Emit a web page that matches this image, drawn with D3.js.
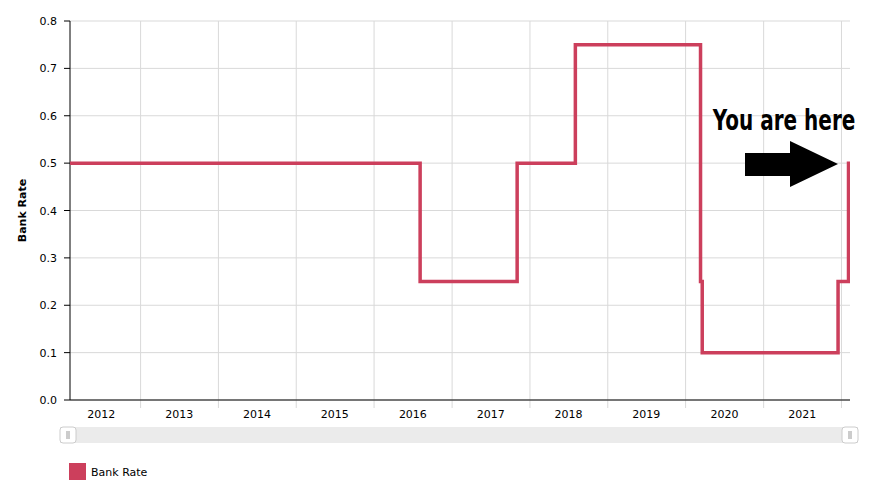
<!DOCTYPE html>
<html><head><meta charset="utf-8">
<script src="https://cdn.jsdelivr.net/npm/d3@7"></script>
<style>body{margin:0;background:#fff}text{font-family:Verdana,"DejaVu Sans",sans-serif}</style>
</head><body><svg id="c" width="870" height="500"></svg>
<script>
const changeDates = ["2012-01-01","2016-08-04","2017-11-02","2018-08-02","2020-03-11","2020-03-19","2021-12-16","2022-02-03","2022-02-10"];
const rates = [0.5,0.25,0.5,0.75,0.25,0.1,0.25,0.5,0.5];
const yTicks = [0,0.1,0.2,0.3,0.4,0.5,0.6,0.7,0.8];
const years = [2012,2013,2014,2015,2016,2017,2018,2019,2020,2021];
const seriesName = "Bank Rate";

const svg = d3.select("#c");
const L=70,R=850,T=21,B=400;
const p = d3.timeParse("%Y-%m-%d");
const data = changeDates.map((d,i)=>({d:p(d),v:rates[i]}));
const x = d3.scaleTime().domain([p("2012-02-05"),p("2022-02-10")]).range([L,R]);
const y = d3.scaleLinear().domain([0,0.8]).range([B,T]);

const g = svg.append("g");
g.selectAll(".hg").data(yTicks).join("line").attr("x1",L).attr("x2",R)
 .attr("y1",d=>y(d)).attr("y2",d=>y(d)).attr("stroke","#d9d9d9");
const ys = years.slice(1).concat([2022]).map(v=>new Date(v,0,1));
g.selectAll(".vg").data(ys).join("line").attr("x1",d=>x(d)).attr("x2",d=>x(d))
 .attr("y1",T).attr("y2",B+8).attr("stroke","#d9d9d9");
g.append("line").attr("x1",L).attr("x2",L).attr("y1",T).attr("y2",B).attr("stroke","#000");
g.append("line").attr("x1",L).attr("x2",R).attr("y1",B).attr("y2",B).attr("stroke","#000");
g.selectAll(".yt").data(yTicks).join("text").attr("x",L-13).attr("y",d=>y(d)+4)
 .attr("text-anchor","end").attr("font-size",11).attr("fill","#000").text(d=>d.toFixed(1));
g.selectAll(".ytk").data(yTicks).join("line").attr("x1",L-6).attr("x2",L)
 .attr("y1",d=>y(d)).attr("y2",d=>y(d)).attr("stroke","#000");
g.selectAll(".xt").data(years).join("text").attr("x",d=>x(new Date(d,6,1))).attr("y",B+18)
 .attr("text-anchor","middle").attr("font-size",11).text(d=>d);
svg.append("text").attr("transform",`translate(26,${(T+B)/2}) rotate(-90)`).attr("text-anchor","middle")
 .attr("font-size",11).attr("font-weight","bold").text(seriesName);

const line = d3.line().x(d=>x(d.d)).y(d=>y(d.v)).curve(d3.curveStepAfter);
svg.append("defs").append("clipPath").attr("id","cp").append("rect").attr("x",L).attr("y",T-5).attr("width",R-L).attr("height",B-T+10);
svg.append("path").datum(data).attr("d",line).attr("fill","none").attr("stroke","#cc3f5c")
 .attr("stroke-width",3.5).attr("clip-path","url(#cp)");

svg.append("rect").attr("x",60).attr("y",427).attr("width",798).attr("height",16).attr("fill","#ebebeb");
[[60,427],[842,427]].forEach(([a,b])=>{
 svg.append("rect").attr("x",a).attr("y",b).attr("width",16).attr("height",16).attr("rx",3).attr("fill","#fff").attr("stroke","#ccc");
 svg.append("line").attr("x1",a+7).attr("x2",a+7).attr("y1",b+4).attr("y2",b+12).attr("stroke","#999");
 svg.append("line").attr("x1",a+9).attr("x2",a+9).attr("y1",b+4).attr("y2",b+12).attr("stroke","#999");
});
svg.append("rect").attr("x",69).attr("y",463).attr("width",17).attr("height",17).attr("fill","#cc3f5c");
svg.append("text").attr("x",91).attr("y",476).attr("font-size",11).text(seriesName);

svg.append("text").attr("x",784).attr("y",130).attr("text-anchor","middle").attr("font-size",25)
 .attr("font-weight","bold").attr("font-family","'DejaVu Sans Condensed','Liberation Sans Narrow',sans-serif")
 .attr("transform","translate(784,130) scale(0.8,1.1) translate(-784,-130)").text("You are here");
svg.append("path").attr("d","M745,153 L790,153 L790,141 L838,164 L790,187 L790,176 L745,176 Z").attr("fill","#000");
</script></body></html>
